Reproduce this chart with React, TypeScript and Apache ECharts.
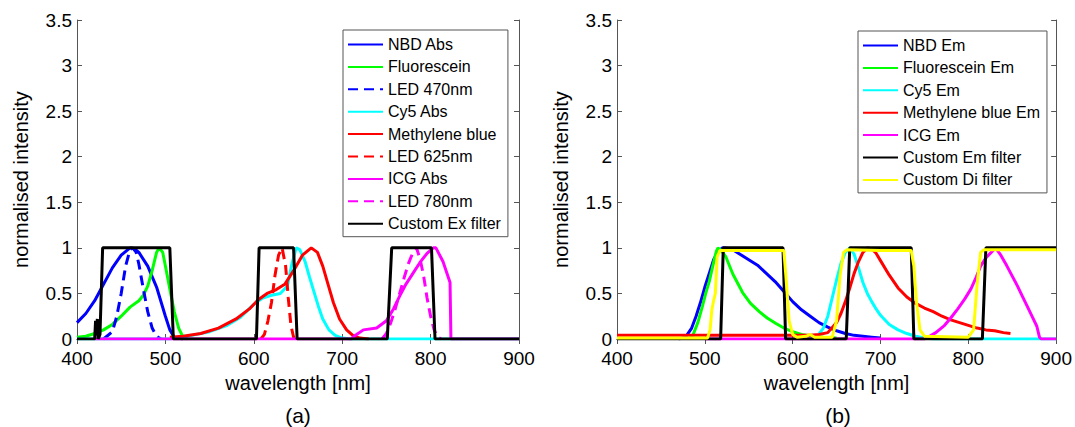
import React, { useEffect, useRef } from "react";
import * as echarts from "echarts";

// ---------- data: left panel (absorption / excitation) ----------
const nbdAbs = [[400,0.18],[410,0.28],[420,0.42],[430,0.6],[440,0.78],[450,0.92],[460,1.0],[465,0.99],[470,0.95],[480,0.8],[490,0.57],[500,0.25],[505,0.1],[510,0.02],[520,0]];
const fluorescein = [[400,0.02],[410,0.03],[420,0.06],[430,0.1],[440,0.16],[450,0.25],[460,0.35],[470,0.42],[475,0.48],[480,0.58],[485,0.75],[490,0.95],[493,1.0],[497,0.95],[500,0.8],[505,0.55],[510,0.3],[515,0.12],[520,0.02],[525,0]];
const led470 = [[430,0],[440,0.08],[445,0.25],[450,0.5],[455,0.8],[460,0.98],[463,1],[467,0.95],[470,0.82],[475,0.55],[480,0.3],[485,0.12],[490,0.03],[495,0]];
const cy5Abs = [[400,0],[505,0],[515,0.02],[530,0.04],[550,0.08],[570,0.15],[585,0.24],[600,0.38],[610,0.45],[620,0.48],[630,0.5],[638,0.58],[643,0.82],[648,1],[652,0.98],[658,0.85],[663,0.68],[668,0.52],[673,0.36],[678,0.22],[685,0.1],[692,0.04],[700,0.01],[710,0],[900,0]];
const methyleneBlue = [[505,0.02],[520,0.03],[540,0.06],[560,0.12],[580,0.22],[595,0.33],[605,0.43],[615,0.5],[625,0.54],[635,0.6],[645,0.75],[655,0.92],[665,1],[672,0.95],[678,0.8],[684,0.6],[690,0.4],[697,0.22],[705,0.1],[712,0.04],[720,0.01],[730,0]];
const led625 = [[608,0],[612,0.05],[616,0.2],[620,0.4],[624,0.7],[628,0.92],[632,1],[636,0.8],[639,0.45],[642,0.15],[645,0.02],[648,0]];
const icgAbs = [[420,0],[710,0],[715,0.04],[724,0.1],[739,0.12],[750,0.2],[758,0.33],[765,0.47],[772,0.6],[780,0.72],[788,0.84],[796,0.94],[803,1],[806,1],[814,0.85],[822,0.62],[823,0],[900,0]];
const led780 = [[745,0],[750,0.06],[755,0.18],[760,0.33],[765,0.5],[770,0.67],[775,0.83],[780,0.95],[784,1],[788,0.88],[792,0.7],[796,0.45],[800,0.25],[804,0.1],[808,0.02],[812,0]];
const customEx = [[400,0],[420,0],[421,0.2],[422,0.04],[423,0.22],[424,0],[426,0.05],[429,1],[505,1],[509,0],[603,0],[606,1],[645,1],[649,0],[751,0],[756,1],[801,1],[805,0],[900,0]];

// ---------- data: right panel (emission / filters) ----------
const nbdEm = [[470,0],[478,0.02],[485,0.12],[490,0.25],[495,0.4],[500,0.57],[505,0.72],[510,0.87],[515,0.96],[520,1.0],[530,0.99],[540,0.93],[550,0.87],[560,0.81],[570,0.72],[580,0.63],[590,0.52],[600,0.41],[610,0.32],[620,0.25],[630,0.18],[640,0.13],[650,0.09],[660,0.06],[670,0.04],[680,0.03],[690,0.02],[700,0.01]];
const fluoresceinEm = [[480,0],[486,0.03],[492,0.18],[497,0.35],[501,0.5],[505,0.63],[509,0.8],[513,0.96],[515,1],[519,0.97],[524,0.9],[532,0.71],[543,0.51],[552,0.39],[562,0.3],[571,0.23],[581,0.17],[590,0.12],[600,0.08],[610,0.05],[622,0.03],[635,0.02],[650,0.01]];
const cy5Em = [[620,0],[628,0.03],[635,0.12],[640,0.25],[645,0.45],[650,0.65],[655,0.83],[660,0.95],[665,1],[670,0.93],[675,0.78],[680,0.62],[685,0.5],[690,0.41],[695,0.33],[700,0.26],[710,0.16],[720,0.1],[730,0.06],[740,0.03],[750,0.01],[760,0],[900,0]];
const methyleneBlueEm = [[400,0.04],[620,0.04],[630,0.05],[640,0.07],[650,0.18],[655,0.28],[660,0.41],[665,0.56],[670,0.72],[675,0.85],[680,0.95],[685,1],[690,0.99],[695,0.94],[700,0.86],[710,0.7],[720,0.56],[730,0.46],[740,0.39],[750,0.34],[760,0.3],[770,0.25],[780,0.21],[790,0.18],[800,0.15],[810,0.12],[820,0.1],[830,0.09],[840,0.07],[848,0.06]];
const icgEm = [[500,0],[750,0],[754,0.02],[763,0.07],[773,0.15],[780,0.23],[788,0.33],[796,0.44],[803,0.55],[809,0.68],[814,0.8],[820,0.89],[826,0.95],[831,1],[837,0.92],[844,0.8],[850,0.69],[856,0.58],[862,0.46],[867,0.36],[873,0.24],[878,0.14],[881,0.02],[883,0],[900,0]];
const customEm = [[400,0],[518,0],[521,1],[589,1],[592,0],[661,0],[665,1],[735,1],[738,0],[816,0],[820,1],[900,1]];
const customDi = [[400,0.01],[503,0.01],[506,0.1],[508,0.32],[510,0.42],[512,0.5],[514,0.9],[517,0.97],[550,0.97],[590,0.97],[593,0.6],[596,0.2],[600,0.05],[605,0.02],[615,0.03],[620,0.05],[625,0.02],[645,0.02],[650,0.2],[654,0.7],[658,0.95],[662,0.98],[700,0.97],[735,0.97],[738,0.8],[741,0.4],[745,0.1],[750,0.03],[800,0.02],[806,0.1],[810,0.6],[814,0.95],[818,0.98],[900,0.98]];

const xTicks = { min: 400, max: 900, interval: 100 };
const yTicks = { min: 0, max: 3.5, interval: 0.5 };

const FONT = "Liberation Sans, Arial, sans-serif";
const AXIS_COLOR = "#555";

type S = { name: string; data: number[][]; color: string; dashed?: boolean };

const leftSeries: S[] = [
  { name: "NBD Abs", data: nbdAbs, color: "#0000ff" },
  { name: "Fluorescein", data: fluorescein, color: "#00ff00" },
  { name: "LED 470nm", data: led470, color: "#0000ff", dashed: true },
  { name: "Cy5 Abs", data: cy5Abs, color: "#00ffff" },
  { name: "Methylene blue", data: methyleneBlue, color: "#ff0000" },
  { name: "LED 625nm", data: led625, color: "#ff0000", dashed: true },
  { name: "ICG Abs", data: icgAbs, color: "#ff00ff" },
  { name: "LED 780nm", data: led780, color: "#ff00ff", dashed: true },
  { name: "Custom Ex filter", data: customEx, color: "#000000" },
];
const rightSeries: S[] = [
  { name: "NBD Em", data: nbdEm, color: "#0000ff" },
  { name: "Fluorescein Em", data: fluoresceinEm, color: "#00ff00" },
  { name: "Cy5 Em", data: cy5Em, color: "#00ffff" },
  { name: "Methylene blue Em", data: methyleneBlueEm, color: "#ff0000" },
  { name: "ICG Em", data: icgEm, color: "#ff00ff" },
  { name: "Custom Em filter", data: customEm, color: "#000000" },
  { name: "Custom Di filter", data: customDi, color: "#ffff00" },
];

function xAxes(gridIndex: number) {
  const base = {
    type: "value" as const,
    gridIndex,
    ...xTicks,
    splitLine: { show: false },
    axisLine: { show: true, lineStyle: { color: AXIS_COLOR, width: 1 } },
    axisTick: { show: true, inside: true, length: 5, lineStyle: { color: AXIS_COLOR } },
  };
  return [
    {
      ...base,
      position: "bottom",
      name: "wavelength [nm]",
      nameLocation: "middle",
      nameGap: 34,
      nameTextStyle: { fontFamily: FONT, fontSize: 20, color: "#000" },
      axisLabel: { fontFamily: FONT, fontSize: 19, color: "#000", margin: 11, lineHeight: 17 },
    },
    { ...base, position: "top", axisLabel: { show: false } },
  ];
}
function yAxes(gridIndex: number) {
  const base = {
    type: "value" as const,
    gridIndex,
    ...yTicks,
    splitLine: { show: false },
    axisLine: { show: true, lineStyle: { color: AXIS_COLOR, width: 1 } },
    axisTick: { show: true, inside: true, length: 5, lineStyle: { color: AXIS_COLOR } },
  };
  return [
    {
      ...base,
      position: "left",
      name: "normalised intensity",
      nameLocation: "middle",
      nameGap: 46,
      nameTextStyle: { fontFamily: FONT, fontSize: 20, color: "#000" },
      axisLabel: { fontFamily: FONT, fontSize: 19, color: "#000", margin: 5, lineHeight: 17 },
    },
    { ...base, position: "right", axisLabel: { show: false } },
  ];
}

function toSeries(list: S[], axisIndex: number) {
  return list.map((s) => ({
    name: s.name,
    type: "line",
    xAxisIndex: axisIndex,
    yAxisIndex: axisIndex,
    data: s.data,
    showSymbol: false,
    symbol: "none",
    smooth: false,
    color: s.color,
    lineStyle: { color: s.color, width: 3, type: s.dashed ? [10, 6] : "solid" },
    itemStyle: { color: s.color },
  }));
}

function legend(list: S[], left: number, top: number) {
  return {
    orient: "vertical",
    left,
    top,
    data: list.map((s) => s.name),
    itemWidth: 35,
    itemHeight: 12,
    itemGap: 6.4,
    padding: [6.5, 7, 5, 4],
    borderColor: "#555",
    borderWidth: 1,
    backgroundColor: "#fff",
    selectedMode: false,
    itemStyle: { opacity: 0 },
    textStyle: { fontFamily: FONT, fontSize: 16, color: "#000", lineHeight: 16 },
  };
}

export default function App() {
  const ref = useRef<HTMLDivElement>(null);
  useEffect(() => {
    if (!ref.current) return;
    const chart = echarts.init(ref.current, undefined, { renderer: "svg" });
    const xs = [...xAxes(0), ...xAxes(1)];
    const ys = [...yAxes(0), ...yAxes(1)];
    chart.setOption({
      animation: false,
      backgroundColor: "#fff",
      grid: [
        { left: 77, top: 20, width: 442, height: 319 },
        { left: 617, top: 20, width: 442, height: 319 },
      ],
      xAxis: xs,
      yAxis: ys,
      legend: [legend(leftSeries, 343, 30), legend(rightSeries, 858, 31)],
      series: [...toSeries(leftSeries, 0), ...toSeries(rightSeries, 2)],
      graphic: [
        { type: "text", x: 298, y: 415, style: { text: "(a)", fontFamily: FONT, fontSize: 21, fill: "#000", align: "center", verticalAlign: "middle" } },
        { type: "text", x: 838, y: 415, style: { text: "(b)", fontFamily: FONT, fontSize: 21, fill: "#000", align: "center", verticalAlign: "middle" } },
      ],
    });
    return () => chart.dispose();
  }, []);
  return <div ref={ref} style={{ position: "absolute", left: 0, top: 0, width: 1075, height: 427 }} />;
}
